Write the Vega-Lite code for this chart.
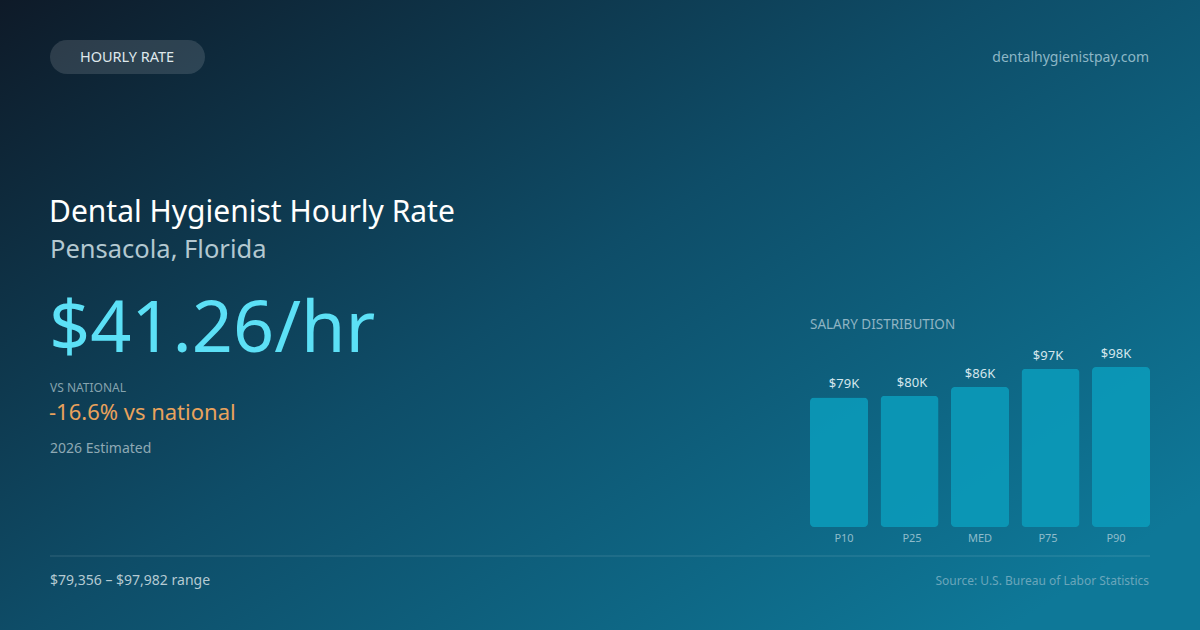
{
  "$schema": "https://vega.github.io/schema/vega-lite/v6.json",
  "width": 1200,
  "height": 630,
  "padding": 0,
  "autosize": {"type": "fit", "contains": "padding"},
  "config": {
    "view": {
      "stroke": null,
      "fill": {
        "gradient": "linear",
        "x1": 0, "y1": 0, "x2": 1, "y2": 0.8,
        "stops": [
          {"offset": 0, "color": "#0e1a28"},
          {"offset": 0.5, "color": "#0e4d68"},
          {"offset": 1, "color": "#0e7898"}
        ]
      }
    },
    "text": {"font": "Noto Sans"}
  },
  "datasets": {
    "salary": [
      {"pct": "P10", "value": 79356, "label": "$79K"},
      {"pct": "P25", "value": 80300, "label": "$80K"},
      {"pct": "MED", "value": 85800, "label": "$86K"},
      {"pct": "P75", "value": 96900, "label": "$97K"},
      {"pct": "P90", "value": 97982, "label": "$98K"}
    ]
  },
  "data": {"name": "salary"},
  "resolve": {"scale": {"x": "independent", "y": "independent"}},
  "layer": [
    {
      "data": {"values": [{}]},
      "mark": {"type": "rect", "cornerRadius": 17, "fill": "#ffffff", "fillOpacity": 0.13},
      "encoding": {
        "x": {"value": 50}, "x2": {"value": 205},
        "y": {"value": 40}, "y2": {"value": 74}
      }
    },
    {
      "data": {"values": [{"t": "HOURLY RATE"}]},
      "mark": {"type": "text", "fontSize": 14.5, "color": "#dfe8ec", "align": "center", "baseline": "middle"},
      "encoding": {"text": {"field": "t"}, "x": {"value": 127}, "y": {"value": 58}}
    },
    {
      "data": {"values": [{"t": "dentalhygienistpay.com"}]},
      "mark": {"type": "text", "fontSize": 14, "color": "#8db7c6", "align": "right", "baseline": "middle"},
      "encoding": {"text": {"field": "t"}, "x": {"value": 1149}, "y": {"value": 58}}
    },
    {
      "data": {"values": [{"t": "Dental Hygienist Hourly Rate"}]},
      "mark": {"type": "text", "fontSize": 30, "color": "#ffffff", "align": "left", "baseline": "middle"},
      "encoding": {"text": {"field": "t"}, "x": {"value": 49}, "y": {"value": 213}}
    },
    {
      "data": {"values": [{"t": "Pensacola, Florida"}]},
      "mark": {"type": "text", "fontSize": 25.5, "color": "#b3c8d0", "align": "left", "baseline": "middle"},
      "encoding": {"text": {"field": "t"}, "x": {"value": 50}, "y": {"value": 250}}
    },
    {
      "data": {"values": [{"t": "$41.26/hr"}]},
      "mark": {"type": "text", "fontSize": 72, "color": "#5ce0f6", "align": "left", "baseline": "middle"},
      "encoding": {"text": {"field": "t"}, "x": {"value": 49}, "y": {"value": 330}}
    },
    {
      "data": {"values": [{"t": "VS NATIONAL"}]},
      "mark": {"type": "text", "fontSize": 12, "color": "#86a3ae", "align": "left", "baseline": "middle"},
      "encoding": {"text": {"field": "t"}, "x": {"value": 50}, "y": {"value": 388}}
    },
    {
      "data": {"values": [{"t": "-16.6% vs national"}]},
      "mark": {"type": "text", "fontSize": 22, "color": "#e9a25c", "align": "left", "baseline": "middle"},
      "encoding": {"text": {"field": "t"}, "x": {"value": 49}, "y": {"value": 413}}
    },
    {
      "data": {"values": [{"t": "2026 Estimated"}]},
      "mark": {"type": "text", "fontSize": 14, "color": "#8ea9b4", "align": "left", "baseline": "middle"},
      "encoding": {"text": {"field": "t"}, "x": {"value": 50}, "y": {"value": 449}}
    },
    {
      "data": {"values": [{"t": "SALARY DISTRIBUTION"}]},
      "mark": {"type": "text", "fontSize": 13.5, "color": "#8fb4c3", "align": "left", "baseline": "middle"},
      "encoding": {"text": {"field": "t"}, "x": {"value": 810}, "y": {"value": 325}}
    },
    {
      "mark": {"type": "bar", "cornerRadius": 4, "color": "#0b9ab9", "opacity": 0.9},
      "encoding": {
        "x": {"field": "pct", "type": "nominal", "sort": null, "axis": null,
              "scale": {"range": [810, 1150], "paddingInner": 0.177, "paddingOuter": 0}},
        "y": {"field": "value", "type": "quantitative", "axis": null,
              "scale": {"range": [527, 367], "zero": true, "nice": false}}
      }
    },
    {
      "mark": {"type": "text", "fontSize": 13, "color": "#d4e6ec", "baseline": "bottom", "dy": -6},
      "encoding": {
        "x": {"field": "pct", "type": "nominal", "sort": null, "axis": null, "bandPosition": 0.5,
              "scale": {"range": [810, 1150], "paddingInner": 0.177, "paddingOuter": 0}},
        "y": {"field": "value", "type": "quantitative", "axis": null,
              "scale": {"range": [527, 367], "zero": true, "nice": false}},
        "text": {"field": "label"}
      }
    },
    {
      "mark": {"type": "text", "fontSize": 11, "color": "#8fbccb", "baseline": "middle"},
      "encoding": {
        "x": {"field": "pct", "type": "nominal", "sort": null, "axis": null, "bandPosition": 0.5,
              "scale": {"range": [810, 1150], "paddingInner": 0.177, "paddingOuter": 0}},
        "y": {"value": 539},
        "text": {"field": "pct"}
      }
    },
    {
      "data": {"values": [{}]},
      "mark": {"type": "rule", "color": "#ffffff", "opacity": 0.15, "strokeWidth": 1},
      "encoding": {"x": {"value": 50}, "x2": {"value": 1150}, "y": {"value": 556}}
    },
    {
      "data": {"values": [{"t": "$79,356 – $97,982 range"}]},
      "mark": {"type": "text", "fontSize": 14, "color": "#b5cad2", "align": "left", "baseline": "middle"},
      "encoding": {"text": {"field": "t"}, "x": {"value": 50}, "y": {"value": 581}}
    },
    {
      "data": {"values": [{"t": "Source: U.S. Bureau of Labor Statistics"}]},
      "mark": {"type": "text", "fontSize": 12, "color": "#6aa6bb", "align": "right", "baseline": "middle"},
      "encoding": {"text": {"field": "t"}, "x": {"value": 1149}, "y": {"value": 581}}
    }
  ]
}
